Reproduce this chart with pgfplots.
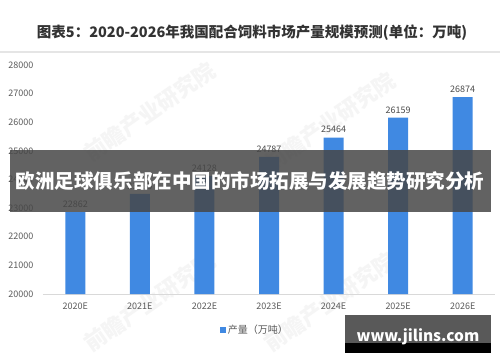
\documentclass[border=0pt]{standalone}
\usepackage{fontspec}
\setmainfont{Noto Sans CJK SC}
\usepackage{pgfplots}
\pgfplotsset{compat=1.18}
\definecolor{barblue}{RGB}{64,137,226}
\definecolor{ticktext}{RGB}{90,90,90}
\begin{document}
\begin{tikzpicture}
\path[use as bounding box, fill=white] (0pt,0pt) rectangle (500pt,362pt);
\node[font=\bfseries\fontsize{14.5}{16}\selectfont, text=black!80] at (252pt,329pt) {图表5：2020-2026年我国配合饲料市场产量规模预测(单位：万吨)};
\draw[black!10, line width=1.5pt] (0pt,310pt) -- (500pt,310pt);
\foreach \px/\py in {150/250,330/240,150/60,330/60}{
  \node[rotate=35, text=black!4, font=\bfseries\fontsize{22}{24}\selectfont] at (\px pt,\py pt) {前瞻产业研究院};
}
\begin{axis}[
  at={(43pt,68pt)}, anchor=south west, scale only axis,
  width=452pt, height=229pt,
  ybar, bar width=20pt,
  xmin=-0.5, xmax=6.5, ymin=20000, ymax=28000,
  ytick={20000,21000,...,28000},
  xtick={0,...,6},
  xticklabels={2020E,2021E,2022E,2023E,2024E,2025E,2026E},
  axis x line=bottom, axis y line=left,
  axis line style={-},
  x axis line style={black!15, line width=0.8pt},
  y axis line style={draw=none},
  tick style={draw=none},
  scaled y ticks=false,
  /pgf/number format/.cd, 1000 sep={}, assume math mode=true,
  /pgfplots/.cd,
  yticklabel style={font=\fontsize{9}{10}\selectfont, text=ticktext, xshift=-4pt},
  xticklabel style={font=\fontsize{9}{10}\selectfont, text=ticktext, yshift=-3pt},
  nodes near coords,
  every node near coord/.append style={font=\fontsize{9}{10}\selectfont, text=black!70, yshift=1pt},
  legend style={at={(0.469,-0.157)}, anchor=center, draw=none, fill=none,
    font=\fontsize{10}{11}\selectfont, text=ticktext},
  legend image code/.code={\fill[barblue] (0pt,-3pt) rectangle (6pt,3pt);},
]
\addplot[fill=barblue, draw=none] coordinates {
  (0,22862) (1,23495) (2,24128) (3,24787) (4,25464) (5,26159) (6,26874)};
\addlegendentry{产量（万吨）}
\end{axis}
\fill[black!72, opacity=0.85] (10pt,150pt) rectangle (491pt,212pt);
\node[text=white, font=\bfseries\fontsize{19.5}{21}\selectfont] at (250pt,181pt) {欧洲足球俱乐部在中国的市场拓展与发展趋势研究分析};
\fill[black!65] (345pt,19pt) rectangle (491pt,47pt);
\fill[black] (345pt,9pt) rectangle (491pt,19pt);
\node[text=white, font=\bfseries\fontsize{15.5}{17}\selectfont] at (418pt,25pt) {www.jilins.com};
\end{tikzpicture}
\end{document}
